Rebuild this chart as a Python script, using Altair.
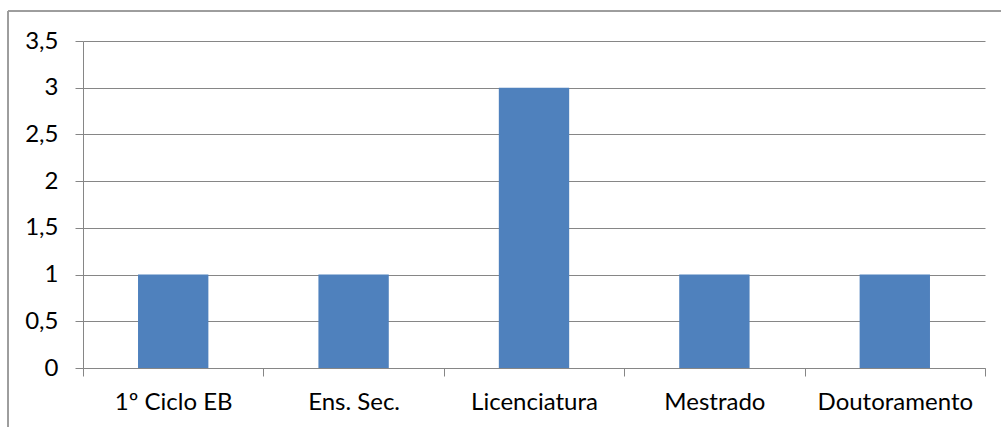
import altair as alt
import pandas as pd

categories = ["1º Ciclo EB", "Ens. Sec.", "Licenciatura", "Mestrado", "Doutoramento"]
values = [1, 1, 3, 1, 1]
y_ticks = [0, 0.5, 1, 1.5, 2, 2.5, 3, 3.5]

df = pd.DataFrame({"cat": categories, "val": values})

GRID = "#868686"
FONT = "Lato"
FS = 24

bars = alt.Chart(df).mark_bar(color="#4F81BD", width={"band": 0.39}).encode(
    x=alt.X("cat:N", sort=categories, title=None,
            scale=alt.Scale(paddingInner=0, paddingOuter=0),
            axis=alt.Axis(labelAngle=0, labelFont=FONT, labelFontSize=FS, labelColor="#000000",
                          labelFontWeight="normal",
                          tickBand="extent", ticks=True, tickSize=8, tickColor=GRID,
                          domain=True, domainColor=GRID, labelPadding=14, grid=False)),
    y=alt.Y("val:Q", title=None,
            scale=alt.Scale(domain=[0, 3.5], nice=False),
            axis=alt.Axis(values=y_ticks, labelExpr="replace(toString(datum.value), '.', ',')",
                          labelFont=FONT, labelFontSize=FS, labelColor="#000000",
                          tickSize=8, tickColor=GRID, domain=True, domainColor=GRID,
                          grid=True, gridColor=GRID, labelPadding=17)),
)

border_left = alt.Chart(df).mark_rule(color="#9a9a9a", strokeWidth=1).encode(
    x=alt.value(-75), y=alt.value(-30), y2=alt.value(400))
border_top = alt.Chart(df).mark_rule(color="#9a9a9a", strokeWidth=1).encode(
    x=alt.value(-75), x2=alt.value(930), y=alt.value(-30))

chart = alt.layer(bars, border_left, border_top).properties(
    width=902, height=327,
    autosize=alt.AutoSizeParams(type="none"),
    padding={"left": 83, "top": 41, "right": 16, "bottom": 59},
).configure_view(stroke=None)

chart.save("out.html", embed_options={"renderer": "svg", "actions": False})
